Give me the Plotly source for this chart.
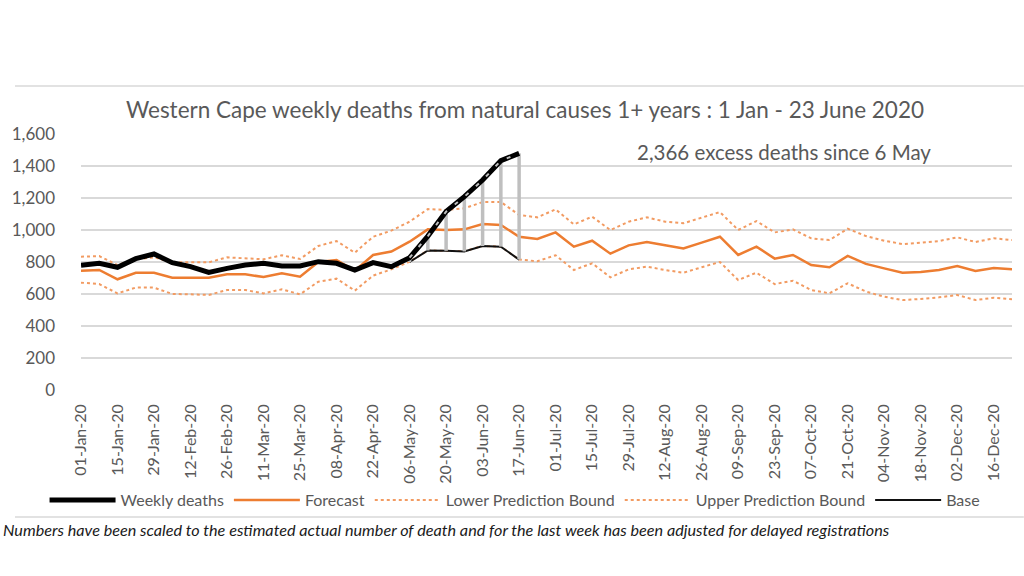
import pandas as pd
import plotly.graph_objects as go

# ---- data ----
weekly_deaths = [779, 792, 767, 821, 850, 796, 771, 735, 760, 781, 792, 775, 775,
                 802, 792, 750, 796, 771, 827, 962, 1115, 1208, 1312, 1433, 1479]
forecast = [746, 750, 692, 733, 733, 702, 702, 702, 723, 723, 706, 729, 708,
            800, 812, 745, 844, 865, 927, 1004, 1000, 1004, 1037, 1031, 958, 944,
            985, 896, 933, 852, 904, 925, 905, 885, 921, 958, 844, 896, 821, 844,
            781, 767, 838, 788, 760, 733, 737, 750, 775, 744, 762, 754]
lower_bound = [671, 662, 604, 640, 640, 600, 598, 594, 625, 625, 604, 629, 598,
               677, 696, 621, 715, 754, 802, 872, 870, 868, 900, 896, 815, 805,
               842, 750, 792, 704, 754, 771, 750, 733, 767, 800, 687, 733, 662, 683,
               625, 604, 667, 615, 583, 562, 569, 579, 594, 562, 577, 567]
upper_bound = [833, 837, 781, 817, 829, 798, 798, 798, 829, 821, 817, 842, 819,
               900, 931, 858, 958, 996, 1052, 1131, 1125, 1135, 1175, 1175, 1094, 1079,
               1129, 1035, 1083, 1000, 1052, 1079, 1052, 1042, 1079, 1112, 1000, 1056, 985, 1004,
               948, 937, 1008, 962, 933, 912, 921, 931, 954, 925, 948, 937]
base = [800, 872, 870, 866, 900, 896, 815]
base_start = 18  # week index of 06-May-20

weeks = list(pd.date_range("2020-01-01", periods=len(forecast), freq="7D").strftime("%d-%b-%y"))
tick_labels = weeks[::2]

title_text = "Western Cape weekly deaths from natural causes 1+ years : 1 Jan - 23 June 2020"
note_text = "2,366 excess deaths since 6 May"
footnote = ("Numbers have been scaled to the estimated actual number of death and for the "
            "last week has been adjusted for delayed registrations")

GREY_TXT = "#595959"
ORANGE = "#ED7D31"
ORANGE_DOT = "#F29B62"
FONT = "Lato"

# page layout (screen px); body margin is removed by the post script
PL, PR, PT, PB = 67, 1012, 134, 390          # plot area on screen
W, H = 1024, 576
pw, ph = PR - PL, PB - PT


def px(xs):
    return (xs - PL) / pw


def py(ys):
    return (PB - ys) / ph


base_weeks = weeks[base_start:base_start + len(base)]
wk_slice = weekly_deaths[base_start:base_start + len(base)]

# vertical connectors between base and weekly deaths
bar_x, bar_y = [], []
for w, b, v in zip(base_weeks, base, wk_slice):
    bar_x += [w, w, None]
    bar_y += [b, v, None]

fig = go.Figure()
fig.add_trace(go.Scatter(x=weeks, y=upper_bound, mode="lines", name="Upper Prediction Bound",
                         line=dict(color=ORANGE_DOT, width=2, dash="dot"), legendrank=4))
fig.add_trace(go.Scatter(x=weeks, y=lower_bound, mode="lines", name="Lower Prediction Bound",
                         line=dict(color=ORANGE_DOT, width=2, dash="dot"), legendrank=3))
fig.add_trace(go.Scatter(x=weeks, y=forecast, mode="lines", name="Forecast",
                         line=dict(color=ORANGE, width=2.5), legendrank=2))
fig.add_trace(go.Scatter(x=base_weeks, y=base, mode="lines", name="Base",
                         line=dict(color="#111111", width=2), legendrank=5))
fig.add_trace(go.Scatter(x=bar_x, y=bar_y, mode="lines", showlegend=False,
                         line=dict(color="#BFBFBF", width=3.5), hoverinfo="skip"))
fig.add_trace(go.Scatter(x=weeks[:len(weekly_deaths)], y=weekly_deaths, mode="lines",
                         name="Weekly deaths", line=dict(color="#000000", width=5),
                         legendrank=1))
fig.add_trace(go.Scatter(x=base_weeks, y=wk_slice, mode="lines", showlegend=False,
                         line=dict(color="#BFBFBF", width=2, dash="4px,10px"), hoverinfo="skip"))

fig.update_layout(
    width=W, height=H,
    paper_bgcolor="white", plot_bgcolor="white",
    margin=dict(l=PL, r=W - PR, t=PT, b=H - PB),
    font=dict(family=FONT, color=GREY_TXT),
    title=dict(text=title_text, x=525 / W, xanchor="center", y=1 - 110 / H,
               yanchor="middle", font=dict(size=22.5, color=GREY_TXT, family=FONT)),
    xaxis=dict(type="category", categoryorder="array", categoryarray=weeks,
               range=[0, len(weeks) - 1], tickmode="array", tickvals=tick_labels,
               ticktext=tick_labels, tickangle=-90, showgrid=False, showline=False,
               zeroline=False, ticks="", tickfont=dict(size=16, color=GREY_TXT),
               ticklabelstandoff=10),
    yaxis=dict(range=[0, 1600], dtick=200, tickformat=",", showgrid=True,
               gridcolor="#D9D9D9", gridwidth=1.5, zeroline=False, showline=False,
               ticks="", tickfont=dict(size=17, color=GREY_TXT), ticklabelstandoff=25),
    legend=dict(orientation="h", x=px(30), xanchor="left", y=py(500),
                yanchor="middle", font=dict(size=16, color=GREY_TXT), itemwidth=66,
                bgcolor="rgba(0,0,0,0)", tracegroupgap=0),
    showlegend=True,
)

fig.add_annotation(text=note_text, xref="paper", yref="paper",
                   x=px(781), y=py(152), xanchor="center",
                   yanchor="middle", showarrow=False,
                   font=dict(size=20.5, color=GREY_TXT, family=FONT))
fig.add_annotation(text="<i>" + footnote + "</i>", xref="paper", yref="paper",
                   x=px(-14), y=py(529), xanchor="left",
                   yanchor="middle", showarrow=False,
                   font=dict(size=16.2, color="#1a1a1a", family=FONT))

for yy in (86, 517):
    fig.add_shape(type="line", xref="paper", yref="paper", x0=px(0), x1=px(W),
                  y0=py(yy), y1=py(yy), line=dict(color="#D9D9D9", width=1.5))

fig.write_html("out.html", config={"displayModeBar": False},
               post_script="document.body.style.margin='0';")
